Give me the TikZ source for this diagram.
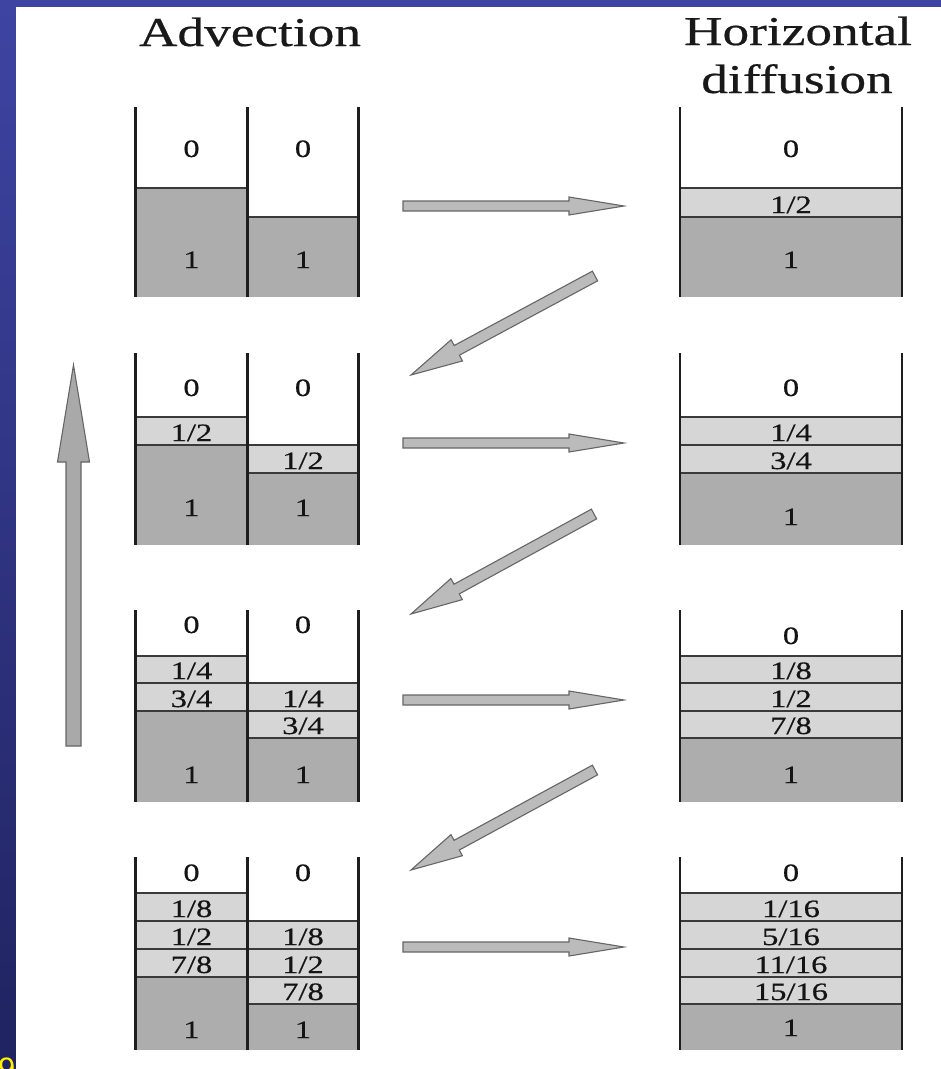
\documentclass[tikz,border=0pt]{standalone}
\usepackage{fontspec}
\setmainfont{Liberation Serif}[FakeStretch=1.3, FakeBold=0.5]
\newfontfamily\slidenum{Liberation Sans}
\usetikzlibrary{calc}
\definecolor{darkfill}{HTML}{ADADAD}
\definecolor{lightfill}{HTML}{D6D6D6}
\definecolor{arrowfill}{HTML}{BBBBBB}
\definecolor{uparrowfill}{HTML}{A9A9A9}
\definecolor{arrowline}{HTML}{666666}
\definecolor{wallcol}{HTML}{1E1E1E}
\definecolor{bandline}{HTML}{3A3A3A}
\definecolor{slidetop}{HTML}{3E44A2}
\definecolor{slidebot}{HTML}{202360}
\tikzset{
  lab/.style={font=\fontsize{25}{25}\selectfont, anchor=base, inner sep=0pt, text=black!92},
  head/.style={font=\fontsize{41}{41}\selectfont, anchor=base, inner sep=0pt, text=black!90},
  wall/.style={draw=wallcol, line width=2.6pt},
  bandl/.style={draw=bandline, line width=1.8pt},
  barrow/.style={fill=arrowfill, draw=arrowline, line width=1.1pt, line join=miter},
}
% fill a band from x1 to x2, y1 (top) to y2 (bottom), with a line at its top
\newcommand{\band}[5]{%
  \fill[#5] (#1,#3) rectangle (#2,#4);
  \draw[bandl] (#1,#3) -- (#2,#3);
}
% block arrow: [style]{start}{end}{half shaft}{half head}{head length}
\newcommand{\blockarrow}[6][]{%
  \coordinate (bah) at ($(#3)!#6!(#2)$);
  \filldraw[barrow,#1] ($(#2)!#4!90:(#3)$) -- ($(bah)!#4!90:(#3)$) -- ($(bah)!#5!90:(#3)$) -- (#3)
    -- ($(bah)!#5!-90:(#3)$) -- ($(bah)!#4!-90:(#3)$) -- ($(#2)!#4!-90:(#3)$) -- cycle;
}
\begin{document}
\begin{tikzpicture}[x=1pt,y=-1pt]
\useasboundingbox (0,0) rectangle (941,1069);
\clip (0,0) rectangle (941,1069);
% slide background
\shade[top color=slidetop, bottom color=slidebot] (0,0) rectangle (941,1069);
\fill[white] (16,7) rectangle (941,1069);
\node[font=\slidenum\fontsize{31}{31}\selectfont, text=yellow, anchor=base west, inner sep=0pt] (pagenum) at (-2,1079) {9};

% headings
\node[head] (hadv) at (250,46) {Advection};
\node[head] (hhor) at (798,45) {Horizontal};
\node[head] (hdif) at (797,93) {diffusion};

% ---------- Row 1 ----------
\fill[darkfill] (135.5,188) rectangle (247.5,297); \draw[bandl] (135.5,188) -- (247.5,188);
\fill[darkfill] (247.5,217) rectangle (358.5,297); \draw[bandl] (247.5,217) -- (358.5,217);
\draw[wall] (135.5,107) -- (135.5,297) (247.5,107) -- (247.5,297) (358.5,107) -- (358.5,297);
\band{680}{902}{188}{217}{lightfill}
\band{680}{902}{217}{297}{darkfill}
\draw[wall] (680,107) -- (680,297) (902,107) -- (902,297);
\node[lab] (r1l0) at (191.5,157) {0};
\node[lab] (r1r0) at (303,157) {0};
\node[lab] (r1l1) at (191.5,268) {1};
\node[lab] (r1r1) at (303,268) {1};
\node[lab] (r1d0) at (791,157) {0};
\node[lab] (r1d12) at (791,213) {1/2};
\node[lab] (r1d1) at (791,268) {1};

% ---------- Row 2 ----------
\band{135.5}{247.5}{417}{445}{lightfill}
\band{135.5}{247.5}{445}{545}{darkfill}
\band{247.5}{358.5}{445}{473}{lightfill}
\band{247.5}{358.5}{473}{545}{darkfill}
\draw[wall] (135.5,353) -- (135.5,545) (247.5,353) -- (247.5,545) (358.5,353) -- (358.5,545);
\band{680}{902}{417}{445}{lightfill}
\band{680}{902}{445}{473}{lightfill}
\band{680}{902}{473}{545}{darkfill}
\draw[wall] (680,353) -- (680,545) (902,353) -- (902,545);
\node[lab] (r2l0) at (191.5,396) {0};
\node[lab] (r2r0) at (303,396) {0};
\node[lab] (r2l12) at (191.5,441) {1/2};
\node[lab] (r2r12) at (303,469) {1/2};
\node[lab] (r2l1) at (191.5,516) {1};
\node[lab] (r2r1) at (303,516) {1};
\node[lab] (r2d0) at (791,396) {0};
\node[lab] (r2d14) at (791,441) {1/4};
\node[lab] (r2d34) at (791,469) {3/4};
\node[lab] (r2d1) at (791,525) {1};

% ---------- Row 3 ----------
\band{135.5}{247.5}{656}{683}{lightfill}
\band{135.5}{247.5}{683}{711}{lightfill}
\band{135.5}{247.5}{711}{802}{darkfill}
\band{247.5}{358.5}{683}{711}{lightfill}
\band{247.5}{358.5}{711}{738}{lightfill}
\band{247.5}{358.5}{738}{802}{darkfill}
\draw[wall] (135.5,610) -- (135.5,802) (247.5,610) -- (247.5,802) (358.5,610) -- (358.5,802);
\band{680}{902}{656}{683}{lightfill}
\band{680}{902}{683}{711}{lightfill}
\band{680}{902}{711}{738}{lightfill}
\band{680}{902}{738}{802}{darkfill}
\draw[wall] (680,610) -- (680,802) (902,610) -- (902,802);
\node[lab] (r3l0) at (191.5,633) {0};
\node[lab] (r3r0) at (303,633) {0};
\node[lab] (r3l14) at (191.5,679) {1/4};
\node[lab] (r3l34) at (191.5,707) {3/4};
\node[lab] (r3r14) at (303,707) {1/4};
\node[lab] (r3r34) at (303,734) {3/4};
\node[lab] (r3l1) at (191.5,783) {1};
\node[lab] (r3r1) at (303,783) {1};
\node[lab] (r3d0) at (791,644) {0};
\node[lab] (r3d18) at (791,679) {1/8};
\node[lab] (r3d12) at (791,707) {1/2};
\node[lab] (r3d78) at (791,734) {7/8};
\node[lab] (r3d1) at (791,783) {1};

% ---------- Row 4 ----------
\band{135.5}{247.5}{893}{921}{lightfill}
\band{135.5}{247.5}{921}{949}{lightfill}
\band{135.5}{247.5}{949}{977}{lightfill}
\band{135.5}{247.5}{977}{1050}{darkfill}
\band{247.5}{358.5}{921}{949}{lightfill}
\band{247.5}{358.5}{949}{977}{lightfill}
\band{247.5}{358.5}{977}{1004}{lightfill}
\band{247.5}{358.5}{1004}{1050}{darkfill}
\draw[wall] (135.5,857) -- (135.5,1050) (247.5,857) -- (247.5,1050) (358.5,857) -- (358.5,1050);
\band{680}{902}{893}{921}{lightfill}
\band{680}{902}{921}{949}{lightfill}
\band{680}{902}{949}{977}{lightfill}
\band{680}{902}{977}{1004}{lightfill}
\band{680}{902}{1004}{1050}{darkfill}
\draw[wall] (680,857) -- (680,1050) (902,857) -- (902,1050);
\node[lab] (r4l0) at (191.5,881) {0};
\node[lab] (r4r0) at (303,881) {0};
\node[lab] (r4l18) at (191.5,917) {1/8};
\node[lab] (r4l12) at (191.5,945) {1/2};
\node[lab] (r4l78) at (191.5,973) {7/8};
\node[lab] (r4r18) at (303,945) {1/8};
\node[lab] (r4r12) at (303,973) {1/2};
\node[lab] (r4r78) at (303,1000) {7/8};
\node[lab] (r4l1) at (191.5,1038) {1};
\node[lab] (r4r1) at (303,1038) {1};
\node[lab] (r4d0) at (791,881) {0};
\node[lab] (r4d1) at (791,917) {1/16};
\node[lab] (r4d2) at (791,945) {5/16};
\node[lab] (r4d3) at (791,973) {11/16};
\node[lab] (r4d4) at (791,1000) {15/16};
\node[lab] (r4d5) at (791,1036) {1};

% ---------- arrows ----------
\coordinate (a1s) at (403,206); \coordinate (a1e) at (624,206);
\coordinate (a2s) at (403,443); \coordinate (a2e) at (624,443);
\coordinate (a3s) at (403,700); \coordinate (a3e) at (624,700);
\coordinate (a4s) at (403,947); \coordinate (a4e) at (624,947);
\blockarrow{a1s}{a1e}{5pt}{9pt}{55pt}
\blockarrow{a2s}{a2e}{5pt}{9pt}{55pt}
\blockarrow{a3s}{a3e}{5pt}{9pt}{55pt}
\blockarrow{a4s}{a4e}{5pt}{9pt}{55pt}
\coordinate (d1s) at (595,276); \coordinate (d1e) at (411,375);
\coordinate (d2s) at (594,514); \coordinate (d2e) at (411,614);
\coordinate (d3s) at (595,770); \coordinate (d3e) at (411,870);
\blockarrow{d1s}{d1e}{5.5pt}{12pt}{52pt}
\blockarrow{d2s}{d2e}{5.5pt}{12pt}{52pt}
\blockarrow{d3s}{d3e}{5.5pt}{12pt}{52pt}
\coordinate (ups) at (73.5,746); \coordinate (upe) at (73.5,365);
\blockarrow[fill=uparrowfill]{ups}{upe}{7.5pt}{16pt}{97pt}
\end{tikzpicture}
\end{document}
